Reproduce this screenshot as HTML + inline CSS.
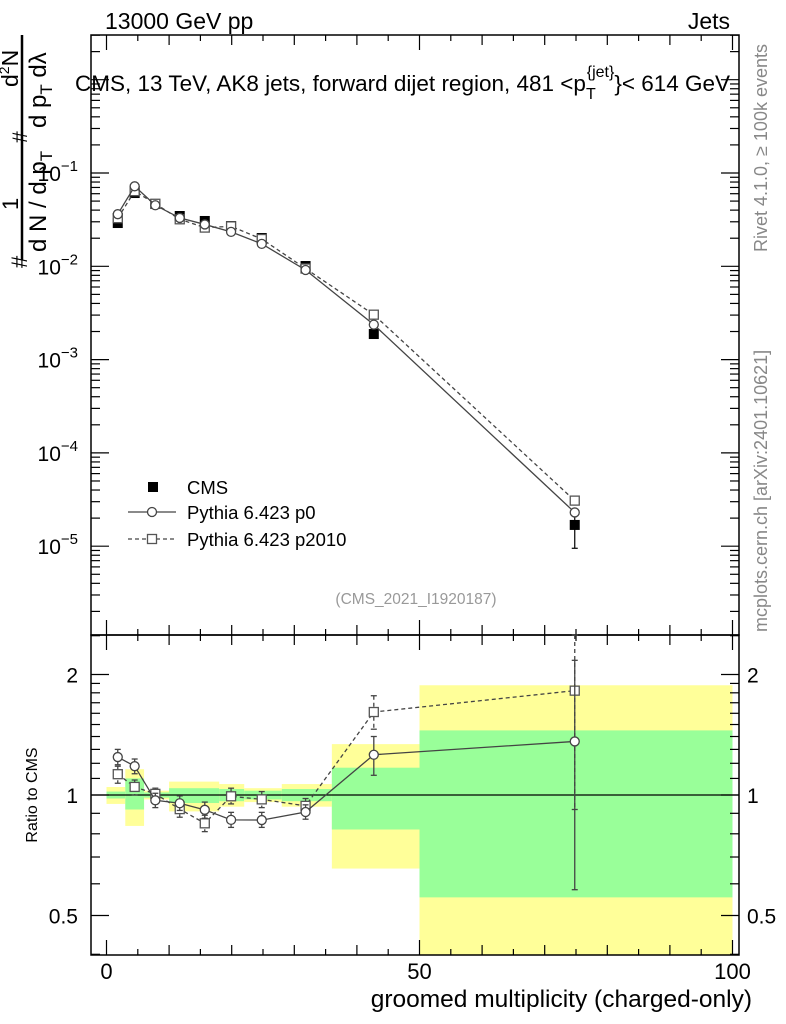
<!DOCTYPE html>
<html><head><meta charset="utf-8"><style>
body{margin:0;background:#fff}
svg{display:block;font-family:"Liberation Sans",Arial,sans-serif}
</style></head><body>
<svg id="c" width="786" height="1024" viewBox="0 0 786 1024" xmlns="http://www.w3.org/2000/svg">
<g id="bands"></g>
<g id="axes"></g>
<g id="marks"></g>
<text x="105" y="29" font-size="23">13000 GeV pp</text>
<text x="730" y="29" font-size="23" text-anchor="end">Jets</text>
<text x="75" y="91" font-size="22.5">CMS, 13 TeV, AK8 jets, forward dijet region, 481 &lt;p<tspan font-size="16" dy="8">T</tspan><tspan font-size="16" dy="-22" dx="-9">{jet}</tspan><tspan dy="14">}&lt; 614 GeV</tspan></text>
<text x="416" y="604" font-size="15.5" fill="#999" text-anchor="middle">(CMS_2021_I1920187)</text>
<text transform="translate(767,252) rotate(-90)" font-size="18" fill="#888">Rivet 4.1.0, ≥ 100k events</text>
<text transform="translate(767,632) rotate(-90)" font-size="18" fill="#888">mcplots.cern.ch [arXiv:2401.10621]</text>
<g font-size="24">
<text transform="translate(27,268) rotate(-90)" font-size="22">#</text>
<text transform="translate(18,210) rotate(-90)" font-size="22">1</text>
<text transform="translate(27,143) rotate(-90)" font-size="21">#</text>
<text transform="translate(18,87) rotate(-90)" font-size="23">d<tspan font-size="14" dy="-9">2</tspan><tspan dy="9">N</tspan></text>
<line x1="22" y1="35" x2="22" y2="260" stroke="#000" stroke-width="2.5"/>
<text transform="translate(46,252) rotate(-90)">d N / d p<tspan font-size="17" dy="6">T</tspan></text>
<text transform="translate(46,128) rotate(-90)">d p<tspan font-size="17" dy="6">T</tspan><tspan dy="-6"> dλ</tspan></text>
</g>
<text transform="translate(37,795) rotate(-90)" font-size="16" text-anchor="middle">Ratio to CMS</text>
<text x="752" y="1007" font-size="24.5" text-anchor="end">groomed multiplicity (charged-only)</text>
<g>
<rect x="148" y="482" width="10" height="10" fill="#000"/>
<text x="187" y="494" font-size="18.5">CMS</text>
<line x1="128" y1="512" x2="176" y2="512" stroke="#444" stroke-width="1.3"/>
<circle cx="152" cy="512" r="4.5" fill="#fff" stroke="#444" stroke-width="1.3"/>
<text x="187" y="519" font-size="18.5">Pythia 6.423 p0</text>
<line x1="128" y1="539" x2="176" y2="539" stroke="#444" stroke-width="1.3" stroke-dasharray="4,3"/>
<rect x="147.5" y="534.5" width="9" height="9" fill="#fff" stroke="#555" stroke-width="1.3"/>
<text x="187" y="546" font-size="18.5">Pythia 6.423 p2010</text>
</g>
</svg>
<script>
const xVals=[1.8,4.5,7.8,11.7,15.7,19.9,24.8,31.8,42.7,74.8];
const cmsVals=[0.0291,0.061,0.0465,0.0346,0.0306,0.027,0.0201,0.01007,0.00188,1.69e-5];
const cmsErrLo=[0.0289,0.0604,0.0462,0.0343,0.0303,0.0267,0.0198,0.0099,0.00183,9.5e-6];
const cmsErrHi=[0.0293,0.0616,0.0468,0.0349,0.0309,0.0273,0.0204,0.01015,0.00193,2.45e-5];
const p0Vals=[0.0362,0.072,0.0451,0.0330,0.0281,0.0234,0.0174,0.00913,0.00237,2.3e-5];
const p2010Vals=[0.0328,0.0639,0.0468,0.0319,0.0260,0.0268,0.0196,0.00946,0.00303,3.08e-5];
const p0RatioErrLo=[1.19,1.13,0.93,0.915,0.875,0.83,0.83,0.87,1.12,0.58];
const p0RatioErrHi=[1.30,1.23,1.01,0.995,0.96,0.905,0.905,0.945,1.40,2.17];
const p2010RatioErrLo=[1.07,1.0,0.97,0.88,0.81,0.95,0.93,0.9,1.46,0.92];
const p2010RatioErrHi=[1.18,1.09,1.04,0.97,0.89,1.04,1.02,0.98,1.77,3.0];
const binEdges=[0,3,6,10,18,22,28,36,50,100];
const yellowLo=[0.95,0.837,0.975,0.91,0.935,0.96,0.935,0.655,0.35];
const yellowHi=[1.047,1.16,1.025,1.08,1.065,1.04,1.065,1.34,1.88];
const greenLo=[0.98,0.92,0.985,0.955,0.965,0.975,0.965,0.82,0.555];
const greenHi=[1.02,1.10,1.015,1.04,1.035,1.025,1.035,1.17,1.45];
const xTickLabels=[0,50,100];
const yTickExps=[-1,-2,-3,-4,-5];
const rTickVals=[0.5,1,2];

const NS="http://www.w3.org/2000/svg";
const L=91,R=739,T=35,MB=635,RB=955;
const X=v=>106.5+v*6.26;
const Y=v=>173-(Math.log10(v)+1)*93.3;
const RY=v=>795-Math.log2(v)*120.5;
function mk(tag,parent,attrs){const e=document.createElementNS(NS,tag);for(const k in attrs)e.setAttribute(k,attrs[k]);document.getElementById(parent).appendChild(e);return e;}

for(let i=0;i<binEdges.length-1;i++){
 const x1=X(binEdges[i]),x2=X(binEdges[i+1]);
 const yt=Math.max(RY(yellowHi[i]),MB),yb=Math.min(RY(yellowLo[i]),RB);
 const y=mk('rect','bands',{x:x1,y:yt,width:x2-x1,height:yb-yt,fill:'#ffff99'});
 
 
 const gt=RY(greenHi[i]),gb=Math.min(RY(greenLo[i]),RB);
 const g=mk('rect','bands',{x:x1,y:gt,width:x2-x1,height:gb-gt,fill:'#99ff99'});
 
 
}
mk('rect','axes',{x:L,y:T,width:R-L,height:MB-T,fill:'none',stroke:'#000','stroke-width':1.5});
mk('rect','axes',{x:L,y:MB,width:R-L,height:RB-MB,fill:'none',stroke:'#000','stroke-width':1.5});
mk('line','axes',{x1:L,x2:R,y1:RY(1),y2:RY(1),stroke:'#000','stroke-width':1.3});
for(let v=0;v<=100;v+=5){
 const len=v%50==0?15:(v%10==0?10:6);const x=X(v);
 for(const [yb,dir] of [[MB,-1],[T,1],[RB,-1],[MB,1]]) mk('line','axes',{x1:x,x2:x,y1:yb,y2:yb+dir*len,stroke:'#000','stroke-width':1.2});
}
xTickLabels.forEach(v=>{const t=mk('text','axes',{x:X(v),y:979,'font-size':22,'text-anchor':'middle'});t.textContent=v;
 
 });
for(let e=-6;e<=0;e++){for(let m=1;m<10;m++){const v=m*Math.pow(10,e);const y=Y(v);if(y<T||y>MB)continue;const len=m==1?18:9;
 mk('line','axes',{x1:L,x2:L+len,y1:y,y2:y,stroke:'#000','stroke-width':1.2});mk('line','axes',{x1:R,x2:R-len,y1:y,y2:y,stroke:'#000','stroke-width':1.2});}}
yTickExps.forEach(e=>{const t=mk('text','axes',{x:78,y:Y(Math.pow(10,e))+8,'font-size':21,'text-anchor':'end'});
 
 
 t.innerHTML='10<tspan font-size="15" dy="-10">−'+(-e)+'</tspan>';});
[0.4,0.5,0.6,0.7,0.8,0.9,1,1.1,1.2,1.3,1.4,1.5,1.6,1.7,1.8,1.9,2,2.5].forEach(v=>{const y=RY(v);if(y<MB||y>RB)return;const len=(v==0.5||v==1||v==2)?18:9;
 mk('line','axes',{x1:L,x2:L+len,y1:y,y2:y,stroke:'#000','stroke-width':1.2});mk('line','axes',{x1:R,x2:R-len,y1:y,y2:y,stroke:'#000','stroke-width':1.2});});
rTickVals.forEach(v=>{let t=mk('text','axes',{x:78,y:RY(v)+8,'font-size':21,'text-anchor':'end'});t.textContent=v;
 
 
 t=mk('text','axes',{x:747,y:RY(v)+8,'font-size':21});t.textContent=v;
 
 });

const clipR=y=>Math.max(MB,Math.min(RB,y));
function series(vals,name,dash,shape,rLo,rHi){
 const pts=xVals.map((x,i)=>X(x)+','+Y(vals[i])).join(' ');
 let l=mk('polyline','marks',{points:pts,fill:'none',stroke:'#444','stroke-width':1.3,'stroke-dasharray':dash});
 
 
 const rp=xVals.map((x,i)=>X(x)+','+RY(vals[i]/cmsVals[i])).join(' ');
 l=mk('polyline','marks',{points:rp,fill:'none',stroke:'#444','stroke-width':1.3,'stroke-dasharray':dash});
 
 
 xVals.forEach((x,i)=>{
  const cx=X(x);
  const ry=RY(vals[i]/cmsVals[i]);
  const a=clipR(RY(rHi[i])),b=clipR(RY(rLo[i]));
  mk('line','marks',{x1:cx,x2:cx,y1:a,y2:b,stroke:'#444','stroke-width':1.3,'stroke-dasharray':dash});
  mk('line','marks',{x1:cx-3,x2:cx+3,y1:a,y2:a,stroke:'#444','stroke-width':1.3});mk('line','marks',{x1:cx-3,x2:cx+3,y1:b,y2:b,stroke:'#444','stroke-width':1.3});
  for(const cy of [Y(vals[i]),ry]){
   let m=shape=='c'?mk('circle','marks',{cx:cx,cy:cy,r:4.5,fill:'#fff',stroke:'#444','stroke-width':1.3}):
     mk('rect','marks',{x:cx-4.5,y:cy-4.5,width:9,height:9,fill:'#fff',stroke:'#555','stroke-width':1.3});
   
   
  }});
}
xVals.forEach((x,i)=>{const cx=X(x);
 mk('line','marks',{x1:cx,x2:cx,y1:Y(cmsErrHi[i]),y2:Y(cmsErrLo[i]),stroke:'#000','stroke-width':1.2});
 mk('line','marks',{x1:cx-3,x2:cx+3,y1:Y(cmsErrLo[i]),y2:Y(cmsErrLo[i]),stroke:'#000','stroke-width':1.2});
 mk('line','marks',{x1:cx-3,x2:cx+3,y1:Y(cmsErrHi[i]),y2:Y(cmsErrHi[i]),stroke:'#000','stroke-width':1.2});
 const r=mk('rect','marks',{x:cx-5,y:Y(cmsVals[i])-5,width:10,height:10,fill:'#000'});
 
 });
series(p2010Vals,'p2010','4,3','s',p2010RatioErrLo,p2010RatioErrHi);
series(p0Vals,'p0','','c',p0RatioErrLo,p0RatioErrHi);
</script>
</body></html>
